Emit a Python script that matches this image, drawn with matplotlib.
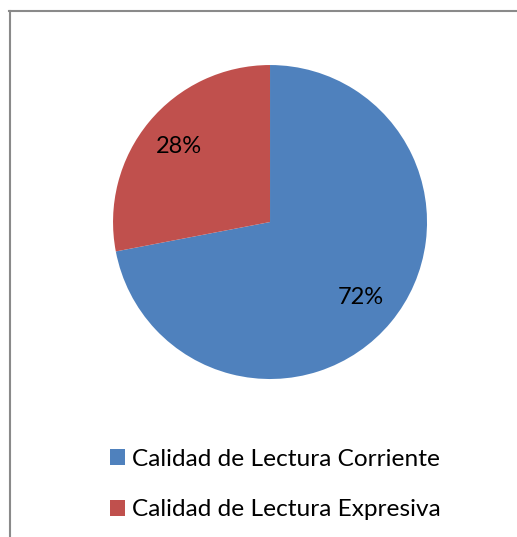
import matplotlib.pyplot as plt
from matplotlib.lines import Line2D
from matplotlib.patches import Patch

labels = ['Calidad de Lectura Corriente', 'Calidad de Lectura Expresiva']
values = [72, 28]
colors = ['#4F81BD', '#C0504D']

plt.rcParams['font.family'] = ['Lato', 'DejaVu Sans']

fig = plt.figure(figsize=(5.17, 5.37), dpi=100)
ax = fig.add_axes([0.2186, 0.2942, 0.6074, 0.5847])
wedges, texts, autotexts = ax.pie(values, colors=colors, startangle=90, counterclock=False,
                                  autopct='%d%%', pctdistance=0.75,
                                  textprops={'fontsize': 17, 'color': 'black'})
ax.set_xlim(-1, 1)
ax.set_ylim(-1, 1)
ax.set_aspect('equal')

# frame: only top and left edges show in the original
fig.add_artist(Line2D([0.0174, 1.0], [0.9795, 0.9795], color='#8a8a8a', lw=1.5,
                      transform=fig.transFigure))
fig.add_artist(Line2D([0.0193, 0.0193], [0.0, 0.9795], color='#8a8a8a', lw=1.5,
                      transform=fig.transFigure))

handles = [Patch(facecolor=c) for c in colors]
fig.legend(handles, labels, loc='upper left', bbox_to_anchor=(110 / 517, 1 - 449 / 537),
           bbox_transform=fig.transFigure, frameon=False, fontsize=17.6,
           handlelength=0.62, handleheight=0.62, handletextpad=0.3,
           labelspacing=1.2, borderpad=0, borderaxespad=0)

fig.savefig('out.png', dpi=100)
